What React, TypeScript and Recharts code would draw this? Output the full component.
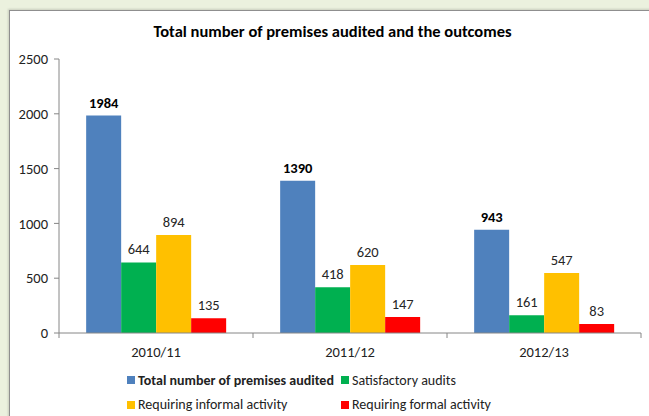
import { Bar, BarChart, LabelList, Legend, XAxis, YAxis } from "recharts";

const years = ["2010/11", "2011/12", "2012/13"];
const totalAudited = [1984, 1390, 943];
const satisfactory = [644, 418, 161];
const informal = [894, 620, 547];
const formal = [135, 147, 83];
const yTicks = [0, 500, 1000, 1500, 2000, 2500];

const data = years.map((year, i) => ({
    year,
    total: totalAudited[i],
    satisfactory: satisfactory[i],
    informal: informal[i],
    formal: formal[i],
}));

const font = "Carlito, Calibri, 'Liberation Sans', Arial, sans-serif";

const legendItems = [
    { name: "Total number of premises audited", color: "#4F81BD", bold: true },
    { name: "Satisfactory audits", color: "#00B050", bold: false },
    { name: "Requiring informal activity", color: "#FFC000", bold: false },
    { name: "Requiring formal activity", color: "#FF0000", bold: false },
];

const CategoryTick = (props: any) => {
    const { x, y, payload, index } = props;
    const half = payload.offset ?? 97;
    return (
        <g>
            <line x1={x - half} x2={x - half} y1={y} y2={y + 5} stroke="#868686" />
            {index === years.length - 1 && (
                <line x1={x + half} x2={x + half} y1={y} y2={y + 5} stroke="#868686" />
            )}
            <text x={x} y={y + 24} textAnchor="middle" fontSize={14.5} fill="#222" fontFamily={font}>
                {payload.value}
            </text>
        </g>
    );
};

const LegendBox = () => (
    <div
        style={{
            display: "grid",
            gridTemplateColumns: "214px 180px",
            paddingLeft: 118,
            paddingTop: 7,
            height: 48,
            fontFamily: font,
            fontSize: 14,
            color: "#222",
        }}
    >
        {legendItems.map((item) => (
            <div key={item.name} style={{ display: "flex", alignItems: "center", height: 24.5 }}>
                <span style={{ width: 8, height: 8, background: item.color, marginRight: 3, flexShrink: 0 }} />
                <span style={{ fontWeight: item.bold ? "bold" : "normal", whiteSpace: "nowrap" }}>{item.name}</span>
            </div>
        ))}
    </div>
);

export default function App() {
    return (
        <div style={{ position: "fixed", left: 0, top: 0, width: 649, height: 416, overflow: "hidden", background: "#EBF1DE" }}>
            <div
                style={{
                    position: "absolute",
                    left: 9,
                    top: 10,
                    width: 700,
                    height: 500,
                    background: "#fff",
                    border: "1px solid #8f8f8f",
                    boxShadow: "-1px -1px 2px rgba(0,0,0,0.15)",
                }}
            />
            <div
                style={{
                    position: "absolute",
                    left: 0,
                    top: 21,
                    width: 665,
                    textAlign: "center",
                    fontFamily: font,
                    fontWeight: "bold",
                    fontSize: 16.5,
                    color: "#000",
                }}
            >
                Total number of premises audited and the outcomes
            </div>
            <div style={{ position: "absolute", left: 0, top: 0 }}>
                <BarChart
                    width={649}
                    height={416}
                    data={data}
                    margin={{ top: 59, right: 8, left: 9, bottom: 0 }}
                    barCategoryGap="14%"
                    barGap={0}
                >
                    <XAxis
                        dataKey="year"
                        height={28}
                        stroke="#868686"
                        tickLine={false}
                        tickSize={0}
                        tickMargin={0}
                        tick={<CategoryTick />}
                        interval={0}
                    />
                    <YAxis
                        width={50}
                        domain={[0, 2500]}
                        ticks={yTicks}
                        stroke="#868686"
                        tickSize={5}
                        tickMargin={6}
                        tick={{ fill: "#222", fontSize: 14.5, fontFamily: font }}
                    />
                    <Legend verticalAlign="bottom" height={55} content={<LegendBox />} />
                    <Bar dataKey="total" fill="#4F81BD" isAnimationActive={false}>
                        <LabelList dataKey="total" position="top" offset={8} fill="#000" fontWeight="bold" fontSize={14.5} fontFamily={font} />
                    </Bar>
                    <Bar dataKey="satisfactory" fill="#00B050" isAnimationActive={false}>
                        <LabelList dataKey="satisfactory" position="top" offset={8} fill="#262626" fontSize={14.5} fontFamily={font} />
                    </Bar>
                    <Bar dataKey="informal" fill="#FFC000" isAnimationActive={false}>
                        <LabelList dataKey="informal" position="top" offset={8} fill="#262626" fontSize={14.5} fontFamily={font} />
                    </Bar>
                    <Bar dataKey="formal" fill="#FF0000" isAnimationActive={false}>
                        <LabelList dataKey="formal" position="top" offset={8} fill="#262626" fontSize={14.5} fontFamily={font} />
                    </Bar>
                </BarChart>
            </div>
        </div>
    );
}
